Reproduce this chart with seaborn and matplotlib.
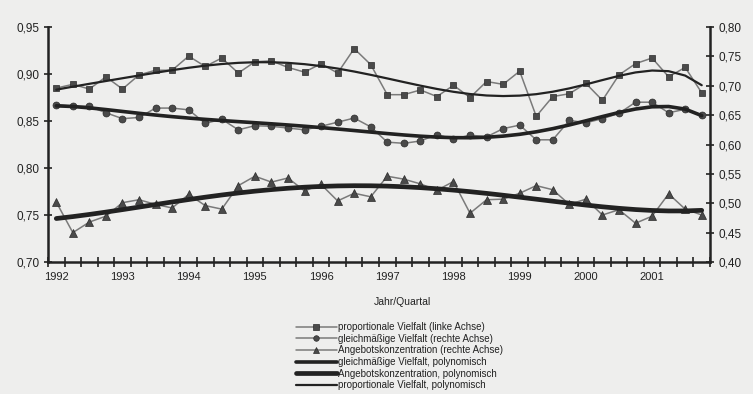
import numpy as np
import pandas as pd
import matplotlib
matplotlib.use("Agg")
import matplotlib.pyplot as plt
import seaborn as sns
from matplotlib.ticker import FuncFormatter, FixedLocator

# values, one per quarter 1992/1 .. 2001/4
years = ["1992", "1993", "1994", "1995", "1996", "1997", "1998", "1999", "2000", "2001"]
quarters = [f"{y}/{q}" for y in years for q in range(1, 5)]

prop_vielfalt = [0.885, 0.889, 0.884, 0.897, 0.884, 0.899, 0.904, 0.904, 0.919, 0.908,
                 0.917, 0.901, 0.913, 0.914, 0.907, 0.902, 0.911, 0.901, 0.927, 0.910,
                 0.878, 0.878, 0.883, 0.876, 0.888, 0.875, 0.892, 0.889, 0.903, 0.855,
                 0.876, 0.879, 0.890, 0.872, 0.899, 0.911, 0.917, 0.897, 0.907, 0.880]
gleich_vielfalt = [0.668, 0.665, 0.665, 0.654, 0.644, 0.646, 0.662, 0.662, 0.659, 0.636,
                   0.643, 0.625, 0.632, 0.631, 0.628, 0.625, 0.631, 0.638, 0.645, 0.630,
                   0.604, 0.602, 0.606, 0.617, 0.609, 0.616, 0.613, 0.627, 0.633, 0.608,
                   0.608, 0.641, 0.637, 0.644, 0.653, 0.672, 0.672, 0.654, 0.660, 0.650]
angebot_konz = [0.502, 0.450, 0.468, 0.478, 0.501, 0.506, 0.498, 0.492, 0.515, 0.496,
                0.490, 0.530, 0.546, 0.536, 0.543, 0.521, 0.532, 0.504, 0.517, 0.511,
                0.546, 0.541, 0.533, 0.522, 0.537, 0.483, 0.506, 0.507, 0.517, 0.530,
                0.523, 0.498, 0.507, 0.480, 0.489, 0.466, 0.478, 0.516, 0.490, 0.480]

labels = ["proportionale Vielfalt (linke Achse)",
          "gleichmäßige Vielfalt (rechte Achse)",
          "Angebotskonzentration (rechte Achse)",
          "gleichmäßige Vielfalt, polynomisch",
          "Angebotskonzentration, polynomisch",
          "proportionale Vielfalt, polynomisch"]

df = pd.DataFrame({"quartal": quarters, "prop": prop_vielfalt,
                   "gleich": gleich_vielfalt, "angebot": angebot_konz})
df["i"] = np.arange(len(df))

# polynomial trend lines (as in the spreadsheet) on 1..n
def trend(col, deg):
    t = df["i"] + 1
    p = np.polynomial.Polynomial.fit(t, df[col], deg)
    return p(t)

df["prop_poly"] = trend("prop", 6)
df["gleich_poly"] = trend("gleich", 6)
df["angebot_poly"] = trend("angebot", 4)

sns.set_theme(style="ticks")
plt.rcParams["font.family"] = ["Liberation Sans", "DejaVu Sans"]
bg = "#eeeeed"
ink = "#222222"

fig = plt.figure(figsize=(7.53, 3.94), dpi=100, facecolor=bg)
ax = fig.add_axes([48 / 753, 1 - 262 / 394, 662 / 753, 235 / 394])
ax.set_facecolor(bg)
ax2 = ax.twinx()

line_kw = dict(color="#7a7a7a", linewidth=1.1, markerfacecolor="#4a4a4a",
               markeredgecolor="#2a2a2a", markeredgewidth=0.5)

sns.lineplot(data=df, x="i", y="prop", ax=ax, marker="s", markersize=5, **line_kw)
sns.lineplot(data=df, x="i", y="gleich", ax=ax2, marker="o", markersize=5, **line_kw)
sns.lineplot(data=df, x="i", y="angebot", ax=ax2, marker="^", markersize=5.5, **line_kw)
sns.lineplot(data=df, x="i", y="gleich_poly", ax=ax2, color=ink, linewidth=2.6)
sns.lineplot(data=df, x="i", y="angebot_poly", ax=ax2, color=ink, linewidth=3.4)
sns.lineplot(data=df, x="i", y="prop_poly", ax=ax, color=ink, linewidth=1.6)

ax.set_xlim(-0.5, len(df) - 0.5)
ax.set_ylim(0.70, 0.95)
ax2.set_ylim(0.40, 0.80)
ax.set_yticks(np.arange(0.70, 0.951, 0.05))
ax2.set_yticks(np.arange(0.40, 0.801, 0.05))

comma = FuncFormatter(lambda v, _: f"{v:.2f}".replace(".", ","))
ax.yaxis.set_major_formatter(comma)
ax2.yaxis.set_major_formatter(comma)

# year labels on the first quarter, tick marks between the quarters
ax.xaxis.set_major_locator(FixedLocator(np.arange(0, len(df), 4)))
ax.set_xticklabels(years)
ax.xaxis.set_minor_locator(FixedLocator(np.arange(-0.5, len(df), 1)))
ax.tick_params(axis="x", which="major", length=0, pad=7, labelsize=8, labelcolor=ink)
ax.tick_params(axis="x", which="minor", direction="inout", length=7, width=1.2, color=ink)
ax.tick_params(axis="y", direction="inout", length=6, width=1.2, color=ink,
               labelsize=8.5, labelcolor=ink, pad=3)
ax2.tick_params(axis="y", direction="inout", length=6, width=1.2, color=ink,
                labelsize=8.5, labelcolor=ink, pad=3)

for a in (ax, ax2):
    a.spines["top"].set_visible(False)
    for s in ("left", "right", "bottom"):
        a.spines[s].set_linewidth(1.8)
        a.spines[s].set_color(ink)
    a.set_ylabel("")
    a.grid(False)
ax.spines["right"].set_visible(False)
ax2.spines["left"].set_visible(False)
ax2.spines["bottom"].set_visible(False)

ax.set_xlabel("Jahr/Quartal", fontsize=7.5, color=ink)
ax.xaxis.set_label_coords((402 - 48) / 662, -0.15)

handles = [ax.lines[0], ax2.lines[0], ax2.lines[1], ax2.lines[2], ax2.lines[3], ax.lines[1]]
fig.legend(handles, labels, loc="upper left", bbox_to_anchor=(296 / 753, 1 - 322 / 394),
           frameon=False, fontsize=7, handlelength=4.2, handletextpad=0.15,
           labelspacing=0.17, borderpad=0, borderaxespad=0, labelcolor=ink,
           markerscale=0.8)

fig.savefig("out.png", dpi=100, facecolor=bg)
